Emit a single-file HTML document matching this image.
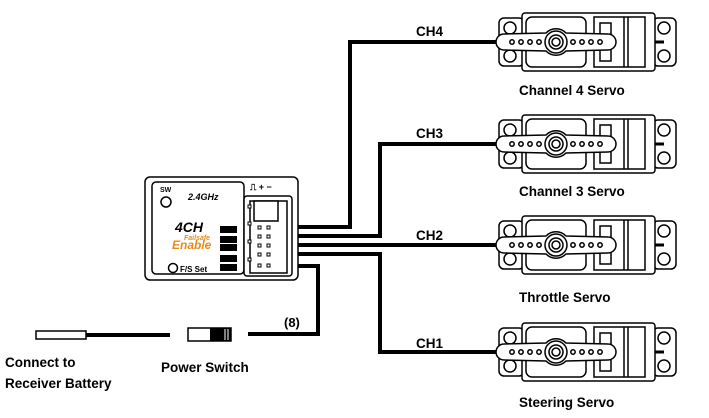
<!DOCTYPE html>
<html><head><style>
body{margin:0;background:#fff;}
svg{display:block;font-family:"Liberation Sans",Arial,sans-serif;font-weight:bold;}
</style></head><body>
<svg width="709" height="418" viewBox="0 0 709 418" xmlns="http://www.w3.org/2000/svg">
<defs>
<g id="servo" fill="#fff" stroke="#000" stroke-width="1.5">
  <rect x="-57" y="-24" width="25" height="48" rx="5"/>
  <circle cx="-46" cy="-14" r="6"/><circle cx="-46" cy="14" r="6"/>
  <rect x="97" y="-24" width="23" height="48" rx="5"/>
  <circle cx="108" cy="-14" r="6"/><circle cx="108" cy="14" r="6"/>
  <rect x="-34" y="-29" width="133" height="58" rx="3"/>
  <rect x="-30" y="-25" width="60" height="50" rx="6"/>
  <rect x="38" y="-25" width="51" height="50"/>
  <rect x="44" y="-19" width="11" height="38"/>
  <line x1="68" y1="-25" x2="68" y2="25"/>
  <line x1="72" y1="-25" x2="72" y2="25"/>
  <line x1="99" y1="0" x2="108" y2="0" stroke-width="3"/>
  <path d="M-52,-8 L-10,-9 A14,14 0 0 1 10,-9 L52,-8 A8,8 0 0 1 52,8 L10,9 A14,14 0 0 1 -10,9 L-52,8 A8,8 0 0 1 -52,-8Z"/>
  <circle cx="0" cy="0" r="11"/><circle cx="0" cy="0" r="7"/><circle cx="0" cy="0" r="4"/>
  <circle cx="-44" cy="0" r="2.2"/><circle cx="-35" cy="0" r="2.2"/><circle cx="-26" cy="0" r="2.2"/><circle cx="-17" cy="0" r="2.2"/>
  <circle cx="17" cy="0" r="2.2"/><circle cx="26" cy="0" r="2.2"/><circle cx="35" cy="0" r="2.2"/><circle cx="44" cy="0" r="2.2"/>
</g>
</defs>
<g fill="none" stroke="#000" stroke-width="4">
  <polyline points="285,227 350,227 350,42 500,42"/>
  <polyline points="285,236 380,236 380,144 500,144"/>
  <polyline points="285,245 500,245"/>
  <polyline points="285,254 380,254 380,352 500,352"/>
  <polyline points="285,266 318,266 318,334 248,334"/>
  <line x1="86" y1="335" x2="170" y2="335"/>
</g>
<use href="#servo" x="556" y="42"/>
<use href="#servo" x="556" y="144"/>
<use href="#servo" x="556" y="245"/>
<use href="#servo" x="556" y="352"/>
<g fill="#fff" stroke="#000" stroke-width="1.5">
  <rect x="145" y="177" width="153" height="103" rx="5"/>
  <rect x="152" y="182" width="92" height="92" rx="4"/>
  <rect x="244" y="196" width="48" height="80" rx="3"/>
  <rect x="250" y="201" width="37" height="72"/>
  <rect x="254" y="201" width="24" height="20"/>
  <circle cx="166" cy="202" r="5"/>
  <circle cx="173" cy="268" r="4.5"/>
  <rect x="188" y="328" width="43" height="13"/>
  <rect x="36" y="331" width="50" height="8"/>
</g>
<rect x="210" y="328" width="21" height="13" fill="#000"/>
<line x1="225" y1="329" x2="225" y2="340" stroke="#fff"/><line x1="228" y1="329" x2="228" y2="340" stroke="#fff"/>
<g fill="#fff" stroke="#000" stroke-width="1">
  <rect x="258" y="226" width="3" height="3"/><rect x="267" y="226" width="3" height="3"/>
  <rect x="258" y="235" width="3" height="3"/><rect x="267" y="235" width="3" height="3"/>
  <rect x="258" y="244" width="3" height="3"/><rect x="267" y="244" width="3" height="3"/>
  <rect x="258" y="253" width="3" height="3"/><rect x="267" y="253" width="3" height="3"/>
  <rect x="258" y="264" width="3" height="3"/><rect x="267" y="264" width="3" height="3"/>
  <rect x="248" y="205" width="3" height="3"/><rect x="248" y="222" width="3" height="3"/><rect x="248" y="240" width="3" height="3"/><rect x="248" y="258" width="3" height="3"/>
</g>
<g fill="#000" font-size="7">
  <text x="160" y="192">SW</text>
  <text x="188" y="200" font-style="italic" font-size="9">2.4GHz</text>
  <text x="175" y="232" font-style="italic" font-size="14">4CH</text>
  <text x="180" y="272" font-size="8">F/S Set</text>
  <text x="250" y="190" font-size="9">⎍ + −</text>
  <rect x="220" y="226" width="17" height="7"/><rect x="220" y="236" width="17" height="7"/><rect x="220" y="244" width="17" height="7"/><rect x="220" y="255" width="17" height="7"/><rect x="220" y="264" width="17" height="7"/>
</g>
<text x="172" y="249" font-size="12" font-style="italic" fill="#e88a1a">Enable</text>
<text x="184" y="240" font-size="7" font-style="italic" fill="#e88a1a">Failsafe</text>
<g fill="#000" font-size="13.5">
  <text x="416" y="36">CH4</text>
  <text x="416" y="138">CH3</text>
  <text x="416" y="240">CH2</text>
  <text x="416" y="348">CH1</text>
  <text x="284" y="327" font-size="13">(8)</text>
  <text x="519" y="95">Channel 4 Servo</text>
  <text x="519" y="196">Channel 3 Servo</text>
  <text x="519" y="302">Throttle Servo</text>
  <text x="519" y="407">Steering Servo</text>
  <text x="161" y="372">Power Switch</text>
  <text x="5" y="367">Connect to</text>
  <text x="5" y="388">Receiver Battery</text>
</g>
</svg>
</body></html>
